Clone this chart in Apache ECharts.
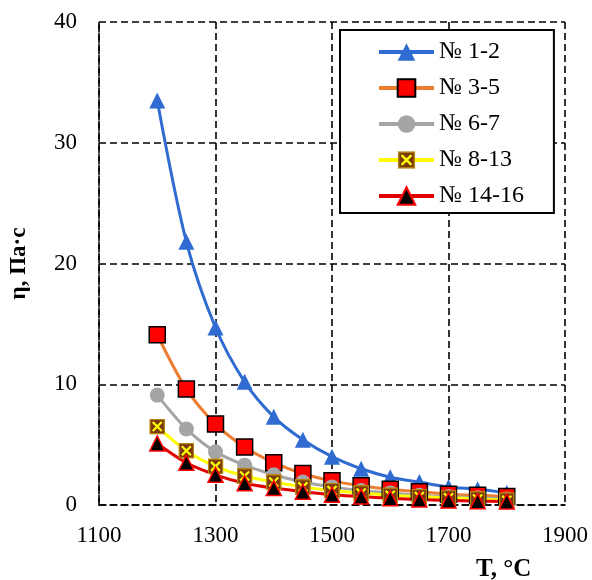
<!DOCTYPE html>
<html><head><meta charset="utf-8">
<script src="https://cdn.jsdelivr.net/npm/echarts@6/dist/echarts.min.js"></script>
<style>html,body{margin:0;padding:0;background:#fff}#c{width:592px;height:580px}</style>
</head><body><div id="c"></div>
<script>
const temps = [1200,1250,1300,1350,1400,1450,1500,1550,1600,1650,1700,1750,1800];
const s1_2   = [33.5,21.8,14.7,10.2,7.3,5.4,4.0,3.0,2.3,1.9,1.5,1.3,1.0];
const s3_5   = [14.1,9.6,6.7,4.8,3.5,2.6,2.0,1.6,1.3,1.1,0.9,0.8,0.7];
const s6_7   = [9.1,6.3,4.4,3.3,2.5,1.9,1.5,1.2,1.0,0.8,0.7,0.6,0.5];
const s8_13  = [6.5,4.5,3.2,2.4,1.9,1.5,1.2,1.0,0.8,0.7,0.6,0.5,0.4];
const s14_16 = [5.1,3.5,2.5,1.8,1.4,1.1,0.85,0.7,0.55,0.45,0.38,0.32,0.28];
const names = ['№ 1-2','№ 3-5','№ 6-7','№ 8-13','№ 14-16'];
const xTicks = [1100,1300,1500,1700,1900];
const yTicks = [0,10,20,30,40];

const pair = a => temps.map((t,i)=>[t,a[i]]);
const xSvg = '<svg xmlns="http://www.w3.org/2000/svg" width="16" height="16" viewBox="0 0 16 16"><rect x="0.75" y="0.75" width="14.5" height="14.5" fill="#7B3A0E" stroke="#B8860B" stroke-width="1.5"/><path d="M3.5 3.5 L12.5 12.5 M12.5 3.5 L3.5 12.5" stroke="#FFFF00" stroke-width="2.2"/></svg>';
const xSym = 'image://data:image/svg+xml;charset=utf-8,' + encodeURIComponent(xSvg);
const font = '"Liberation Serif","Times New Roman",serif';
const dash = {color:'#000', width:1.6, type:[7,4]};

const chart = echarts.init(document.getElementById('c'), null, {renderer:'canvas'});
chart.setOption({
  animation:false,
  textStyle:{fontFamily:font},
  grid:{left:94,right:27,top:22,bottom:75,containLabel:false},
  xAxis:{type:'value',min:1100,max:1900,interval:200,
    axisLine:{show:true,lineStyle:dash},axisTick:{show:false},
    splitLine:{show:true,lineStyle:dash},
    axisLabel:{margin:19,fontSize:23,color:'#000',fontFamily:font,
      formatter:v=>xTicks.includes(v)?String(v):''}},
  yAxis:{type:'value',min:0,max:40,interval:10,
    name:'η, Па·с',nameLocation:'middle',nameGap:68,
    nameTextStyle:{fontSize:23,fontWeight:'bold',color:'#000',fontFamily:font},
    axisLine:{show:true,lineStyle:dash},axisTick:{show:false},
    splitLine:{show:true,lineStyle:dash},
    axisLabel:{margin:22,fontSize:23,color:'#000',fontFamily:font,
      formatter:v=>yTicks.includes(v)?String(v):''}},
  legend:{orient:'vertical',left:340,top:30,data:names,
    backgroundColor:'#fff',borderColor:'#000',borderWidth:2,
    padding:[10,30,5,37],itemGap:12,itemWidth:55,itemHeight:22,
    lineStyle:{width:4},
    textStyle:{fontSize:24,lineHeight:22,color:'#000',fontFamily:font}},
  graphic:[{type:'text',left:476,top:557,style:{text:'T, °C',font:'bold 25px '+font,fill:'#000'}}],
  series:[
    {name:names[0],type:'line',data:pair(s1_2),smooth:0.3,symbol:'triangle',symbolSize:16,
      lineStyle:{color:'#2F6BD0',width:3},itemStyle:{color:'#2F6BD0'}},
    {name:names[1],type:'line',data:pair(s3_5),smooth:0.3,symbol:'rect',symbolSize:16,
      lineStyle:{color:'#ED7D31',width:3},itemStyle:{color:'#FF0000',borderColor:'#000',borderWidth:1.5}},
    {name:names[2],type:'line',data:pair(s6_7),smooth:0.3,symbol:'circle',symbolSize:15,
      lineStyle:{color:'#A5A5A5',width:3},itemStyle:{color:'#A5A5A5'}},
    {name:names[3],type:'line',data:pair(s8_13),smooth:0.3,symbol:xSym,symbolSize:16,
      lineStyle:{color:'#FFFF00',width:3},itemStyle:{color:'#FFFF00'}},
    {name:names[4],type:'line',data:pair(s14_16),smooth:0.3,symbol:'triangle',symbolSize:15,
      lineStyle:{color:'#E00000',width:3},itemStyle:{color:'#000',borderColor:'#FF0000',borderWidth:1.5}}
  ]
});
</script></body></html>
